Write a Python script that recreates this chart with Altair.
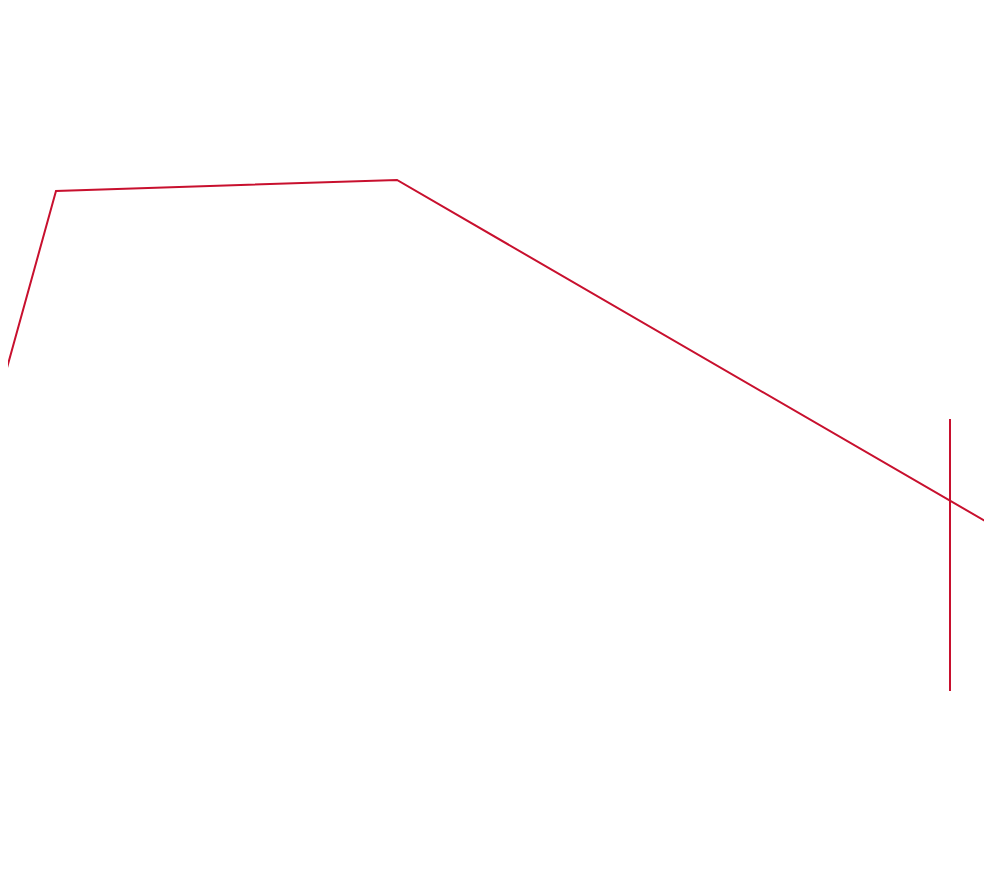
import altair as alt
import pandas as pd

# Line series (x, y) in chart units
line_x = [-8, 48, 389, 984]
line_y = [475, 677, 688, 343]

# Vertical marker
rule_x = [942]
rule_y_low = [177]
rule_y_high = [449]

W, H = 976, 860
RED = "#c8102e"

line_df = pd.DataFrame({"x": line_x, "y": line_y})
rule_df = pd.DataFrame({"x": rule_x, "y1": rule_y_low, "y2": rule_y_high})

xs = alt.Scale(domain=[0, W], nice=False, zero=False)
ys = alt.Scale(domain=[0, H], nice=False, zero=False)

line = alt.Chart(line_df).mark_line(color=RED, strokeWidth=2, clip=True).encode(
    x=alt.X("x:Q", scale=xs, axis=None),
    y=alt.Y("y:Q", scale=ys, axis=None),
)

rule = alt.Chart(rule_df).mark_rule(color=RED, strokeWidth=2, clip=True).encode(
    x=alt.X("x:Q", scale=xs, axis=None),
    y=alt.Y("y1:Q", scale=ys, axis=None),
    y2="y2:Q",
)

chart = alt.layer(line, rule).properties(
    width=W, height=H, padding=0
).configure_view(stroke=None)

chart.save("out.html", embed_options={"renderer": "svg", "actions": False})
